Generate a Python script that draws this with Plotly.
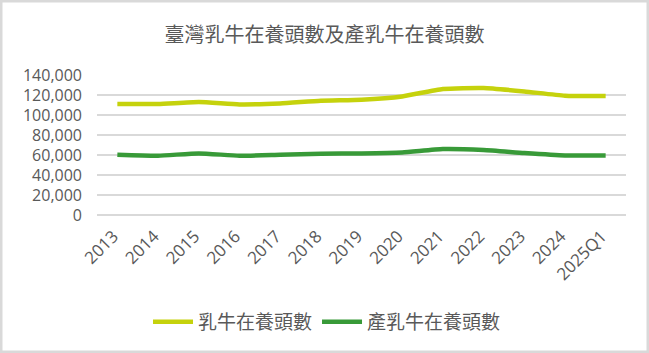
import plotly.graph_objects as go

categories = ["2013", "2014", "2015", "2016", "2017", "2018", "2019",
              "2020", "2021", "2022", "2023", "2024", "2025Q1"]
dairy_cattle = [111000, 111000, 113000, 110600, 111600, 114300, 115300,
                118600, 126000, 127000, 123600, 119300, 119000]
milking_cattle = [60300, 59300, 61600, 59300, 60300, 61300, 61600,
                  62600, 66000, 65000, 62000, 59600, 59600]
y_ticks = [0, 20000, 40000, 60000, 80000, 100000, 120000, 140000]
title_text = "臺灣乳牛在養頭數及產乳牛在養頭數"
series_names = ["乳牛在養頭數", "產乳牛在養頭數"]

W, H = 649, 353
ML, MR, MT, MB = 97, 23, 75, 138
PW, PH = W - ML - MR, H - MT - MB

FONT = "Open Sans, Noto Sans CJK TC, sans-serif"
CJK = "Noto Sans CJK TC, sans-serif"
GREY = "#595959"

fig = go.Figure()
fig.add_trace(go.Scatter(x=categories, y=dairy_cattle, name=series_names[0],
                         mode="lines",
                         line=dict(color="#c5d20c", width=4.5, shape="spline", smoothing=0.5)))
fig.add_trace(go.Scatter(x=categories, y=milking_cattle, name=series_names[1],
                         mode="lines",
                         line=dict(color="#389a38", width=4.5, shape="spline", smoothing=0.5)))

fig.update_layout(
    width=W, height=H,
    margin=dict(l=ML, r=MR, t=MT, b=MB, pad=0, autoexpand=False),
    paper_bgcolor="white", plot_bgcolor="white",
    title=dict(text=title_text, x=0.5, xref="container", xanchor="center",
               y=1 - 35 / H, yanchor="middle",
               font=dict(family=CJK, size=20, color=GREY)),
    font=dict(family=FONT, size=16, color=GREY),
    legend=dict(orientation="h", x=(327 - ML) / PW, xanchor="center", xref="paper",
                y=(MT + PH - 322) / PH, yanchor="middle",
                font=dict(family=CJK, size=19, color=GREY),
                bgcolor="rgba(0,0,0,0)", itemwidth=40, tracegroupgap=0),
    xaxis=dict(type="category", range=[-0.5, len(categories) - 0.5],
               tickangle=-45, showgrid=False, showline=False,
               ticks="", tickfont=dict(family=FONT, size=17, color=GREY),
               ticklabelstandoff=7, ticklabelshift=-4, automargin=False),
    yaxis=dict(range=[0, 140000], tickvals=y_ticks, tickformat=",d",
               showgrid=True, gridcolor="#d9d9d9", gridwidth=1.5,
               zeroline=True, zerolinecolor="#d9d9d9", zerolinewidth=1.5,
               showline=False, ticks="", ticklabelstandoff=14, automargin=False,
               tickfont=dict(family=FONT, size=16, color=GREY)),
    shapes=[dict(type="rect", xref="paper", yref="paper",
                 x0=-ML / PW, x1=1 + MR / PW, y0=-MB / PH, y1=1 + MT / PH,
                 line=dict(color="#d9d9d9", width=5), fillcolor="rgba(0,0,0,0)",
                 layer="above")],
)

fig.write_html("out.html")
